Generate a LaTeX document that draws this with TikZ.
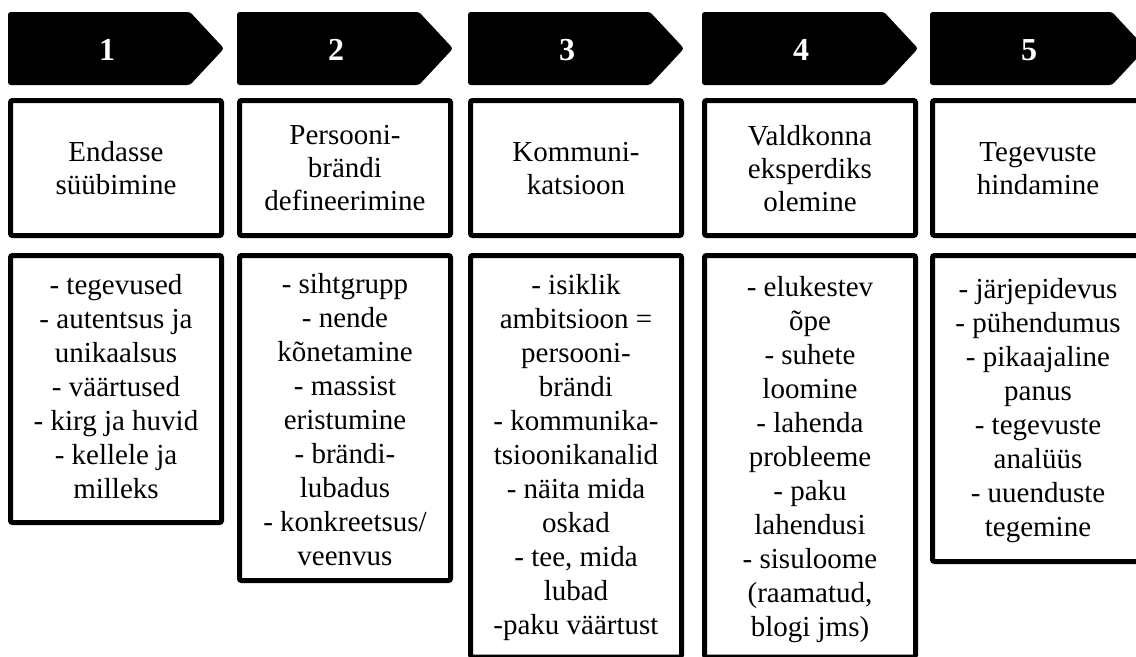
\documentclass[tikz,border=0pt]{standalone}
\usepackage{fontspec}
\setmainfont{Liberation Serif}
\newdimen\pxu
\pxu=0.75pt
\begin{document}
\begin{tikzpicture}[x=0.75pt, y=-0.75pt,
  chevron/.style={fill=black, rounded corners=2pt},
  numtext/.style={text=white, inner sep=0pt, font=\bfseries\fontsize{24pt}{26pt}\selectfont},
  frame/.style={draw=black, line width=5\pxu, rounded corners=1.5pt, inner sep=0pt,
    minimum width=211\pxu},
  midtext/.style={align=center, inner sep=0pt,
    font=\fontsize{21.75pt}{24.75pt}\selectfont,
    execute at begin node=\strut, execute at end node=\strut},
  listtext/.style={align=center, inner sep=0pt, anchor=north,
    font=\fontsize{21.75pt}{25.5pt}\selectfont,
    execute at begin node=\strut}
]
\useasboundingbox (0,0) rectangle (1136,657);
\clip (0,0) rectangle (1136,657);

% step headers: black arrow tabs with white numbers
\foreach \x/\n in {8/1, 237/2, 468/3, 702/4, 930/5} {
  \fill[chevron] (\x,12) -- (\x+182,12) -- (\x+216,48.5) -- (\x+182,85) -- (\x,85) -- cycle;
  \node[numtext] (num\n) at (\x+99,50) {\n};
}

% step titles
\node[frame, minimum height=135\pxu] (title1) at (116,168) {};
\node[frame, minimum height=135\pxu] (title2) at (345,168) {};
\node[frame, minimum height=135\pxu] (title3) at (576,168) {};
\node[frame, minimum height=135\pxu] (title4) at (810,168) {};
\node[frame, minimum height=135\pxu] (title5) at (1038,168) {};

\node[midtext] (name1) at (title1.center) [yshift=-5\pxu] {Endasse\\süübimine};
\node[midtext] (name2) at (title2.center) [yshift=-5\pxu] {Persooni-\\brändi\\defineerimine};
\node[midtext] (name3) at (title3.center) [yshift=-5\pxu] {Kommuni-\\katsioon};
\node[midtext] (name4) at (title4.center) [yshift=-5\pxu] {Valdkonna\\eksperdiks\\olemine};
\node[midtext] (name5) at (title5.center) [yshift=-5\pxu] {Tegevuste\\hindamine};

% step contents
\node[frame, minimum height=267\pxu]   (list1) at (116,389) {};
\node[frame, minimum height=325\pxu]   (list2) at (345,418) {};
\node[frame, minimum height=401.5\pxu] (list3) at (576,456.25) {};
\node[frame, minimum height=401.5\pxu] (list4) at (810,456.25) {};
\node[frame, minimum height=306\pxu]   (list5) at (1038,408.5) {};

\node[listtext] (items1) at (116,274.2) {- tegevused\\- autentsus ja\\unikaalsus\\- väärtused\\- kirg ja huvid\\- kellele ja\\milleks};
\node[listtext] (items2) at (345,273.2) {- sihtgrupp\\- nende\\kõnetamine\\- massist\\eristumine\\- brändi-\\lubadus\\- konkreetsus/\\veenvus};
\node[listtext] (items3) at (576,274.2) {- isiklik\\ambitsioon =\\persooni-\\brändi\\- kommunika-\\tsioonikanalid\\- näita mida\\oskad\\- tee, mida\\lubad\\-paku väärtust};
\node[listtext] (items4) at (810,276.2) {- elukestev\\õpe\\- suhete\\loomine\\- lahenda\\probleeme\\- paku\\lahendusi\\- sisuloome\\(raamatud,\\blogi jms)};
\node[listtext] (items5) at (1038,278.2) {- järjepidevus\\- pühendumus\\- pikaajaline\\panus\\- tegevuste\\analüüs\\- uuenduste\\tegemine};
\end{tikzpicture}
\end{document}
